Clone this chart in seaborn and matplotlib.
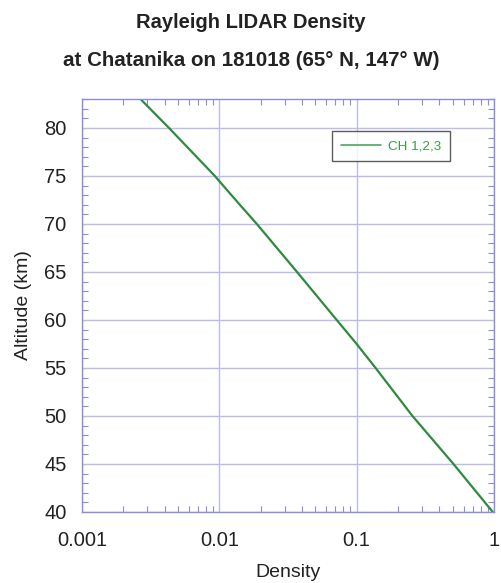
import matplotlib
matplotlib.use("Agg")
import matplotlib.pyplot as plt
import matplotlib.ticker as mticker
import seaborn as sns
import pandas as pd

altitude = [83, 80, 75, 72, 70, 65, 60, 57.5, 55, 50, 45, 40]
density = [0.00267, 0.00430, 0.00927, 0.0141, 0.01875, 0.0368, 0.0716, 0.1, 0.1374, 0.255, 0.507, 0.98]
series_label = "CH 1,2,3"
x_ticks = [0.001, 0.01, 0.1, 1]
x_tick_labels = ["0.001", "0.01", "0.1", "1"]
y_ticks = [40, 45, 50, 55, 60, 65, 70, 75, 80]

sns.set_theme(style="white")
plt.rcParams["font.family"] = ["Liberation Sans", "DejaVu Sans"]

df = pd.DataFrame({"Density": density, "Altitude": altitude, "series": series_label})

fig = plt.figure(figsize=(5.02, 5.83), dpi=100)
ax = fig.add_axes([0.1633, 0.1218, 0.8207, 0.7082])

line_color = "#2e8b3e"
sns.lineplot(data=df, x="Density", y="Altitude", hue="series", palette=[line_color],
             sort=False, estimator=None, linewidth=1.6, ax=ax)

ax.set_xscale("log")
ax.set_xlim(0.001, 1)
ax.set_ylim(40, 83)

grid_color = "#bcbce8"
spine_color = "#8c8cd8"
ax.set_xticks(x_ticks)
ax.set_xticklabels(x_tick_labels)
ax.xaxis.set_minor_locator(mticker.LogLocator(base=10, subs=range(2, 10)))
ax.xaxis.set_minor_formatter(mticker.NullFormatter())
ax.set_yticks(y_ticks)
ax.yaxis.set_minor_locator(mticker.MultipleLocator(1))

ax.xaxis.grid(True, which="major", color=grid_color, linewidth=1.0)
ax.yaxis.grid(True, which="major", color=grid_color, linewidth=1.0)
for s in ax.spines.values():
    s.set_color(spine_color)
    s.set_linewidth(1.0)

ax.tick_params(which="both", direction="in", top=True, right=True, bottom=True, left=True,
               color=spine_color)
ax.tick_params(which="major", length=0, labelsize=14.5, labelcolor="#222222")
ax.tick_params(axis="x", which="major", pad=14)
ax.tick_params(axis="y", which="major", pad=11)
ax.tick_params(which="minor", length=4, width=0.8)

ax.set_xlabel("Density", fontsize=14, color="#222222", labelpad=10)
ax.set_ylabel("Altitude (km)", fontsize=14, color="#222222", labelpad=9)

fig.text(0.5, 1 - 23 / 583, "Rayleigh LIDAR Density", ha="center", va="center",
         fontsize=14.5, fontweight="bold", color="#222222")
fig.text(0.5, 1 - 60 / 583, "at Chatanika on 181018 (65° N, 147° W)", ha="center", va="center",
         fontsize=14.8, fontweight="bold", color="#222222")

leg = ax.legend(loc="upper left", bbox_to_anchor=(0.607, 0.9225), borderaxespad=0,
                frameon=True, fancybox=False, fontsize=9.7, handlelength=3.0,
                borderpad=0.65, handletextpad=0.5)
leg.get_frame().set_edgecolor("#333333")
leg.get_frame().set_linewidth(1.0)
for t in leg.get_texts():
    t.set_color("#3d9a4a")
for h in leg.get_lines():
    h.set_color("#4aa85a")
    h.set_linewidth(1.2)

fig.savefig("out.png", dpi=100)
